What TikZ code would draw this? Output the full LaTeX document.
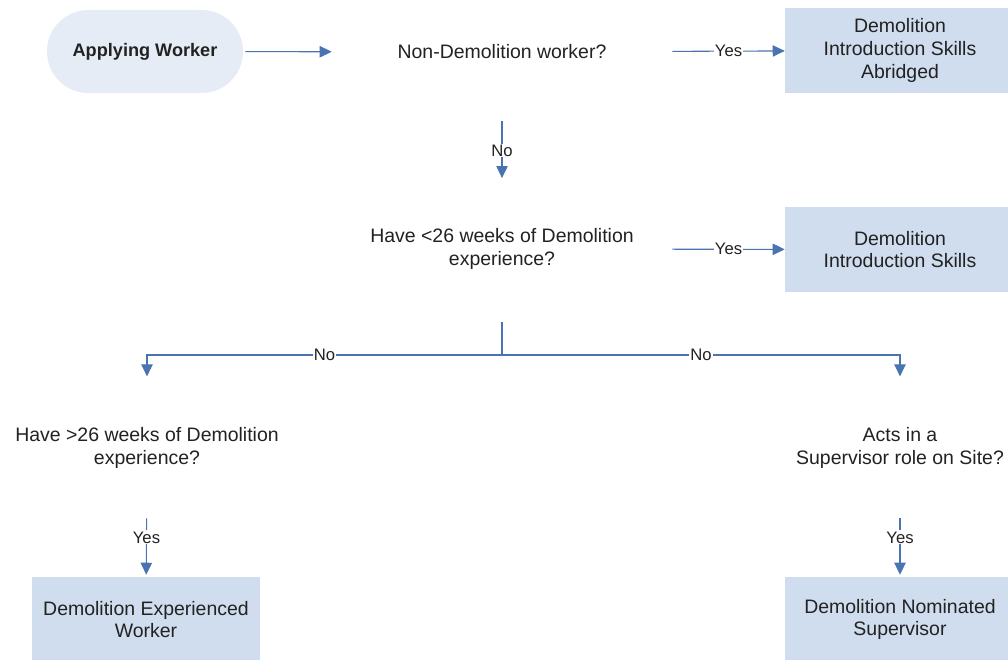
\documentclass[tikz,border=0pt]{standalone}
\usepackage{fontspec}
\setmainfont{Liberation Sans}
\usetikzlibrary{arrows.meta}
\definecolor{arrowblue}{HTML}{4A73B2}
\definecolor{boxblue}{HTML}{CFDDEE}
\definecolor{pillblue}{HTML}{E6ECF6}
\definecolor{txt}{HTML}{222222}
\tikzset{
  pill/.style={fill=pillblue, rounded corners=31pt, minimum width=147pt, minimum height=62.25pt, font=\fontsize{13.6}{16}\selectfont\bfseries, text=txt},
  question/.style={align=center, minimum width=255pt, minimum height=45pt, inner sep=0pt, font=\fontsize{14.6}{17}\selectfont, text=txt},
  result/.style={fill=boxblue, align=center, minimum width=172.5pt, minimum height=63.75pt, inner sep=0pt, font=\fontsize{14.6}{17}\selectfont, text=txt},
  conn/.style={draw=arrowblue, line width=0.8pt, -{Triangle[length=9pt,width=8.5pt]}},
  plainconn/.style={draw=arrowblue, line width=0.8pt},
  lab/.style={fill=white, inner sep=0.8pt, font=\fontsize{12.5}{14}\selectfont, text=txt}
}
\begin{document}
\begin{tikzpicture}[x=0.75pt,y=-0.75pt]
\useasboundingbox[fill=white] (0,0) rectangle (1008,660);
% nodes
\node[pill] (apply) at (145,51.5) {Applying Worker};
\node[question] (q1) at (502,52) {Non-Demolition worker?};
\node[result] (b1) at (900,50.5) {Demolition\\Introduction Skills\\Abridged};
\node[question] (q2) at (502,249) {Have <26 weeks of Demolition\\experience?};
\node[result] (b2) at (900,249.5) {Demolition\\Introduction Skills};
\coordinate (j) at (502,355);
\node[question] (q3) at (147,448) {Have >26 weeks of Demolition\\experience?};
\node[question] (q4) at (900,448) {Acts in a\\Supervisor role on Site?};
\node[result, minimum width=171pt] (b3) at (146,619.5) {Demolition Experienced\\Worker};
\node[result] (b4) at (900,619.5) {Demolition Nominated\\Supervisor};
% connectors
\draw[conn, shorten <=1.5pt] (apply) -- (q1);
\draw[conn] (q1) -- node[lab] {Yes} (b1);
\draw[conn, shorten <=29pt, shorten >=30.5pt] (q1) -- node[lab] {No} (q2);
\draw[conn] (q2) -- node[lab] {Yes} (b2);
\draw[plainconn, shorten <=32pt] (q2) -- (j);
\draw[conn, shorten >=31pt] (j) -| node[lab, pos=0.25] {No} (q3);
\draw[conn, shorten >=31pt] (j) -| node[lab, pos=0.25] {No} (q4);
\draw[conn, shorten <=30pt, shorten >=1.5pt] (q3) -- node[lab, pos=0.6] {Yes} (b3);
\draw[conn, shorten <=30pt, shorten >=1.5pt] (q4) -- node[lab, pos=0.6] {Yes} (b4);
\end{tikzpicture}
\end{document}
